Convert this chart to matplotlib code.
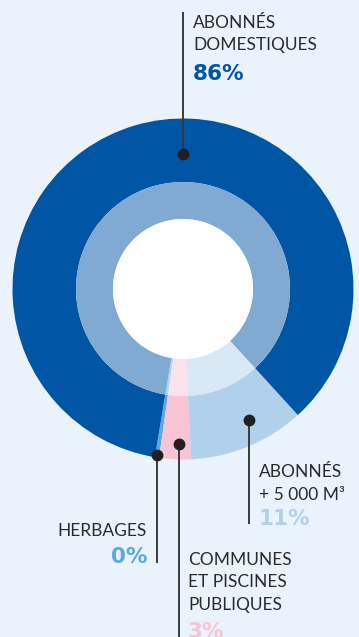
import numpy as np
import matplotlib
matplotlib.use("Agg")
import matplotlib.pyplot as plt
from matplotlib.colors import to_rgb

# Répartition des consommations (%)
categories = ["HERBAGES", "COMMUNES\nET PISCINES\nPUBLIQUES", "ABONNÉS\n+ 5 000 M³", "ABONNÉS\nDOMESTIQUES"]
shares = [0.4, 3.0, 11.0, 85.6]
pct_labels = [f"{round(v)}%" for v in shares]

colors = ["#5AAAE0", "#F7C4D4", "#B1D0EB", "#0055A5"]
bg = "#EAF3FC"
ink = "#2A2A2A"

W, H = 359, 637
cx, cy = 183, H - 289
r_out, r_mid, r_hole = 170.5, 107, 70


def lighten(c, k=0.5):
    rgb = np.array(to_rgb(c))
    return tuple(rgb + (1 - rgb) * k)


fig = plt.figure(figsize=(W / 100, H / 100), dpi=100, facecolor=bg)
ax = fig.add_axes([0, 0, 1, 1])
ax.set_facecolor(bg)

start = -99.5
ax.pie(shares, colors=colors, startangle=start, counterclock=True, center=(cx, cy),
       radius=r_out, wedgeprops=dict(width=r_out - r_mid, linewidth=0), frame=True)
ax.pie(shares, colors=[lighten(c) for c in colors], startangle=start, counterclock=True,
       center=(cx, cy), radius=r_mid, wedgeprops=dict(width=r_mid - r_hole, linewidth=0), frame=True)
ax.add_patch(plt.Circle((cx, cy), r_hole, color="white", lw=0))

ax.set_xlim(0, W)
ax.set_ylim(0, H)
ax.set_aspect("equal")
ax.axis("off")

# points de repère: (angle, rayon) puis extrémité du trait
anchors = [(-98.9, 168), (-91.5, 155), (-63.3, 146.7), (90, 135)]
line_end = [H - 563, -5, H - 524, H - 12]

lab_font = dict(family="Lato", fontsize=12.5, color=ink, fontweight="normal")
pct_font = dict(family="DejaVu Sans", fontsize=15.5, fontweight="bold")

for (ang, rad), yend in zip(anchors, line_end):
    x = cx + rad * np.cos(np.radians(ang))
    y = cy + rad * np.sin(np.radians(ang))
    ax.plot([x, x], [y, yend], color="#3A3A3A", lw=1.4, solid_capstyle="butt")
    ax.plot(x, y, "o", color="#231F20", ms=7.5)

# textes: (x, lignes de base, base du pourcentage, alignement)
text_pos = [
    (147, [536], 563, "right"),
    (188, [565, 587, 610], 638, "left"),
    (259, [477, 500], 525, "left"),
    (193, [28, 50], 80, "left"),
]
for cat, pct, col, (tx, bases, pbase, ha) in zip(categories, pct_labels, colors, text_pos):
    for line, b in zip(cat.split("\n"), bases):
        ax.text(tx, H - b, line, ha=ha, va="baseline", **lab_font)
    ax.text(tx, H - pbase, pct, ha=ha, va="baseline", color=col, **pct_font)

fig.savefig("out.png", dpi=100, facecolor=bg)
